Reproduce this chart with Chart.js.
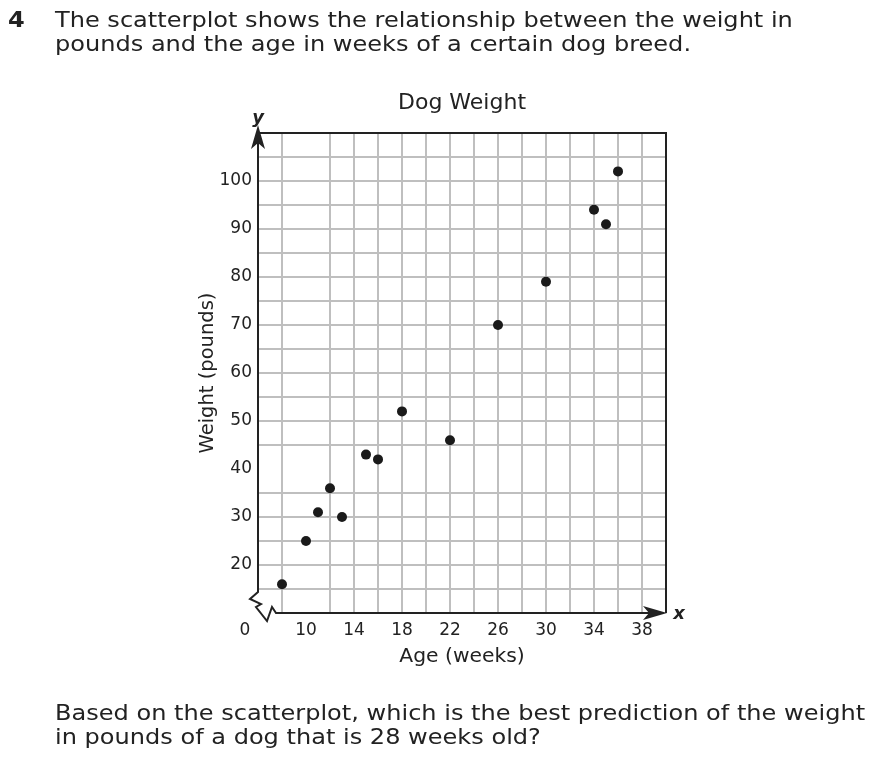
<!DOCTYPE html>
<html>
<head>
<title>Dog Weight</title>
<script src="https://cdn.jsdelivr.net/npm/chart.js"></script>
<style>
    body { margin: 0; background: #fff; font-family: "DejaVu Sans", Verdana, sans-serif; color: #222; }
    #wrap { position: relative; width: 876px; height: 766px; overflow: hidden; }
    canvas { position: absolute; left: 0; top: 0; }
    .q { position: absolute; font-size: 21px; line-height: 24px; white-space: nowrap; transform: scaleX(1.145); transform-origin: 0 0; }
</style>
</head>
<body>
<div id="wrap">
    <canvas id="dogChart" width="876" height="766"></canvas>
    <div class="q" style="left:8px; top:8px; font-weight:bold;">4</div>
    <div class="q" style="left:55px; top:8px;">The scatterplot shows the relationship between the weight in<br>pounds and the age in weeks of a certain dog breed.</div>
    <div class="q" style="left:55px; top:701px;">Based on the scatterplot, which is the best prediction of the weight<br>in pounds of a dog that is 28 weeks old?</div>
</div>

<script>
    const ages = [8, 10, 11, 12, 13, 15, 16, 18, 22, 26, 30, 34, 35, 36];
    const weights = [16, 25, 31, 36, 30, 43, 42, 52, 46, 70, 79, 94, 91, 102];
    const xTickLabels = [10, 14, 18, 22, 26, 30, 34, 38];
    const yTickLabels = [20, 30, 40, 50, 60, 70, 80, 90, 100];
    const xMin = 6, xMax = 40, yMin = 10, yMax = 110;

    const ink = '#222';
    const gridColor = '#bfbfbf';
    const font = '"DejaVu Sans", Verdana, sans-serif';

    const points = ages.map((a, i) => ({ x: a, y: weights[i] }));

    // hide the grid line that sits under the axis / border
    const gridLine = c => {
        const v = c.tick ? c.tick.value : null;
        if (v === xMin || v === xMax || v === yMin || v === yMax) return 'rgba(0,0,0,0)';
        return gridColor;
    };

    // axes with the break, arrows, border and the x / y / 0 labels
    const frame = {
        id: 'frame',
        afterDraw(chart) {
            const { ctx, scales: { x, y } } = chart;
            const x0 = x.getPixelForValue(xMin), x1 = x.getPixelForValue(xMax);
            const y0 = y.getPixelForValue(yMin), y1 = y.getPixelForValue(yMax);
            ctx.save();
            ctx.strokeStyle = ink;
            ctx.fillStyle = ink;
            ctx.lineWidth = 2;
            ctx.lineJoin = 'miter';

            // top and right border
            ctx.beginPath();
            ctx.moveTo(x0, y1);
            ctx.lineTo(x1, y1);
            ctx.lineTo(x1, y0);
            ctx.stroke();

            // y axis, break zigzag, x axis
            ctx.beginPath();
            ctx.moveTo(x0, y1 + 10);
            ctx.lineTo(x0, y0 - 21);
            ctx.lineTo(x0 - 8, y0 - 14);
            ctx.lineTo(x0 + 3, y0 - 9);
            ctx.lineTo(x0 - 2, y0 - 6);
            ctx.lineTo(x0 + 9, y0 + 8);
            ctx.lineTo(x0 + 14, y0 - 6);
            ctx.lineTo(x0 + 18, y0);
            ctx.lineTo(x1 - 14, y0);
            ctx.stroke();

            // arrowheads
            ctx.beginPath();
            ctx.moveTo(x0, y1 - 8);
            ctx.lineTo(x0 - 7, y1 + 16);
            ctx.lineTo(x0, y1 + 10);
            ctx.lineTo(x0 + 7, y1 + 16);
            ctx.closePath();
            ctx.fill();

            ctx.beginPath();
            ctx.moveTo(x1 + 1, y0);
            ctx.lineTo(x1 - 23, y0 - 7);
            ctx.lineTo(x1 - 17, y0);
            ctx.lineTo(x1 - 23, y0 + 7);
            ctx.closePath();
            ctx.fill();

            ctx.textAlign = 'center';
            ctx.textBaseline = 'middle';
            ctx.font = 'italic bold 18px ' + font;
            ctx.fillText('y', x0, y1 - 15);
            ctx.fillText('x', x1 + 13, y0 + 1);

            ctx.font = '17px ' + font;
            ctx.fillText('0', x0 - 13, y0 + 18);
            ctx.restore();
        }
    };

    const ctx = document.getElementById('dogChart').getContext('2d');
    new Chart(ctx, {
        type: 'scatter',
        data: {
            datasets: [{
                label: 'Dog Weight',
                data: points,
                backgroundColor: '#1a1a1a',
                borderWidth: 0,
                pointRadius: 5,
                pointHoverRadius: 5
            }]
        },
        options: {
            responsive: false,
            animation: false,
            layout: { padding: { left: 180, right: 210, top: 90, bottom: 93 } },
            plugins: {
                legend: { display: false },
                tooltip: { enabled: false },
                title: {
                    display: true,
                    text: 'Dog Weight',
                    fullSize: false,
                    color: ink,
                    font: { family: font, size: 22, weight: 'normal' },
                    padding: { top: 0, bottom: 16.6 }
                }
            },
            scales: {
                x: {
                    type: 'linear',
                    min: xMin,
                    max: xMax,
                    afterFit: s => { s.height = 60; },
                    border: { display: false },
                    grid: { color: gridLine, lineWidth: 2, drawTicks: false },
                    ticks: {
                        stepSize: 2,
                        autoSkip: false,
                        maxRotation: 0,
                        padding: 7,
                        color: ink,
                        font: { family: font, size: 17 },
                        callback: v => xTickLabels.includes(v) ? String(v) : ''
                    },
                    title: {
                        display: true,
                        text: 'Age (weeks)',
                        color: ink,
                        font: { family: font, size: 20.3 },
                        padding: { top: 0, bottom: 4 }
                    }
                },
                y: {
                    type: 'linear',
                    min: yMin,
                    max: yMax,
                    afterFit: s => { s.width = 78; },
                    border: { display: false },
                    grid: { color: gridLine, lineWidth: 2, drawTicks: false },
                    ticks: {
                        stepSize: 5,
                        autoSkip: false,
                        padding: 6,
                        color: ink,
                        font: { family: font, size: 17 },
                        callback: v => yTickLabels.includes(v) ? String(v) : ''
                    },
                    title: {
                        display: true,
                        text: 'Weight (pounds)',
                        color: ink,
                        font: { family: font, size: 19.5 },
                        padding: { top: 16, bottom: 0 }
                    }
                }
            }
        },
        plugins: [frame]
    });
</script>
</body>
</html>
